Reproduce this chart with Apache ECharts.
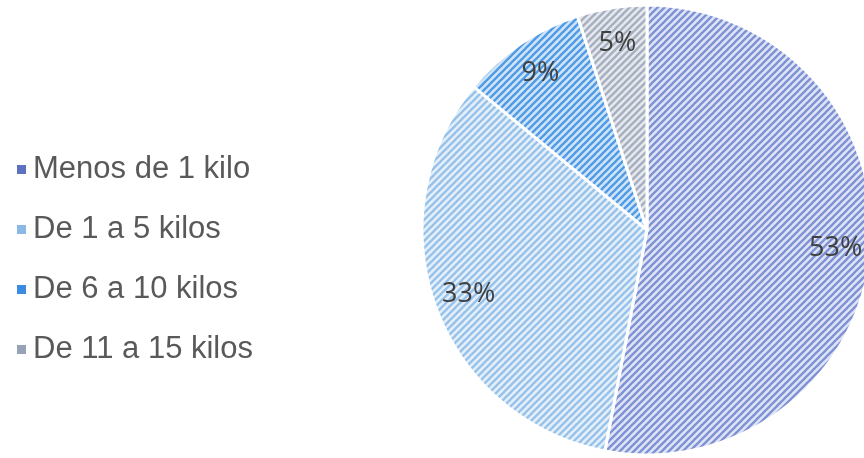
<!DOCTYPE html>
<html><head><meta charset="utf-8">
<script src="https://cdn.jsdelivr.net/npm/echarts@6/dist/echarts.min.js"></script>
<style>html,body{margin:0;padding:0;background:#fff}#c{width:864px;height:458px}</style>
</head><body><div id="c"></div>
<script>
var categories = ['Menos de 1 kilo', 'De 1 a 5 kilos', 'De 6 a 10 kilos', 'De 11 a 15 kilos'];
var values = [53, 33, 9, 5];
var labels = ['53%', '33%', '9%', '5%'];

var stripeColors = ['#7d91d4', '#96c2ea', '#4f9ae5', '#a6afc0'];
var bgColors = ['#dfe4f5', '#e4effa', '#d0e4f8', '#e5e8ec'];
var legendColors = ['#5c72bf', '#8ab9e6', '#3b8be0', '#98a2b6'];

function makePattern(fg, bg) {
  var s = 7;
  var cv = document.createElement('canvas');
  cv.width = s; cv.height = s;
  var ctx = cv.getContext('2d');
  ctx.fillStyle = bg; ctx.fillRect(0, 0, s, s);
  ctx.strokeStyle = fg; ctx.lineWidth = 2.3;
  for (var k = -1; k <= 1; k++) {
    ctx.beginPath();
    ctx.moveTo(k * s - 1, s + 1);
    ctx.lineTo(k * s + s + 1, -1);
    ctx.stroke();
  }
  return { image: cv, repeat: 'repeat' };
}

var pieData = categories.map(function (c, i) {
  return { name: c, value: values[i], itemStyle: { color: makePattern(stripeColors[i], bgColors[i]) } };
});
var labelData = categories.map(function (c, i) {
  return { name: c, value: values[i], label: { formatter: labels[i] } };
});

var chart = echarts.init(document.getElementById('c'));
chart.setOption({
  animation: false,
  legend: {
    orient: 'vertical',
    left: 12,
    top: 149,
    itemGap: 29,
    itemWidth: 9,
    itemHeight: 9,
    icon: 'rect',
    data: categories.map(function (c, i) {
      return { name: c, itemStyle: { color: legendColors[i], borderWidth: 0, decal: 'none' } };
    }),
    itemStyle: { borderWidth: 0 },
    textStyle: { fontFamily: 'Liberation Sans', fontSize: 31, color: '#595959', padding: [0, 0, 0, 2] }
  },
  series: [{
    type: 'pie',
    center: [647, 230],
    radius: [0, 225],
    startAngle: 90,
    clockwise: true,
    silent: true,
    label: { show: false },
    labelLine: { show: false },
    itemStyle: { borderColor: '#ffffff', borderWidth: 3 },
    data: pieData
  }, {
    type: 'pie',
    center: [647, 230],
    radius: [148, 225],
    startAngle: 90,
    clockwise: true,
    silent: true,
    legendHoverLink: false,
    itemStyle: { color: 'rgba(0,0,0,0)' },
    label: { show: true, position: 'inside', fontFamily: 'Open Sans', fontSize: 27, color: '#404040' },
    labelLine: { show: false },
    data: labelData
  }]
});
</script></body></html>
